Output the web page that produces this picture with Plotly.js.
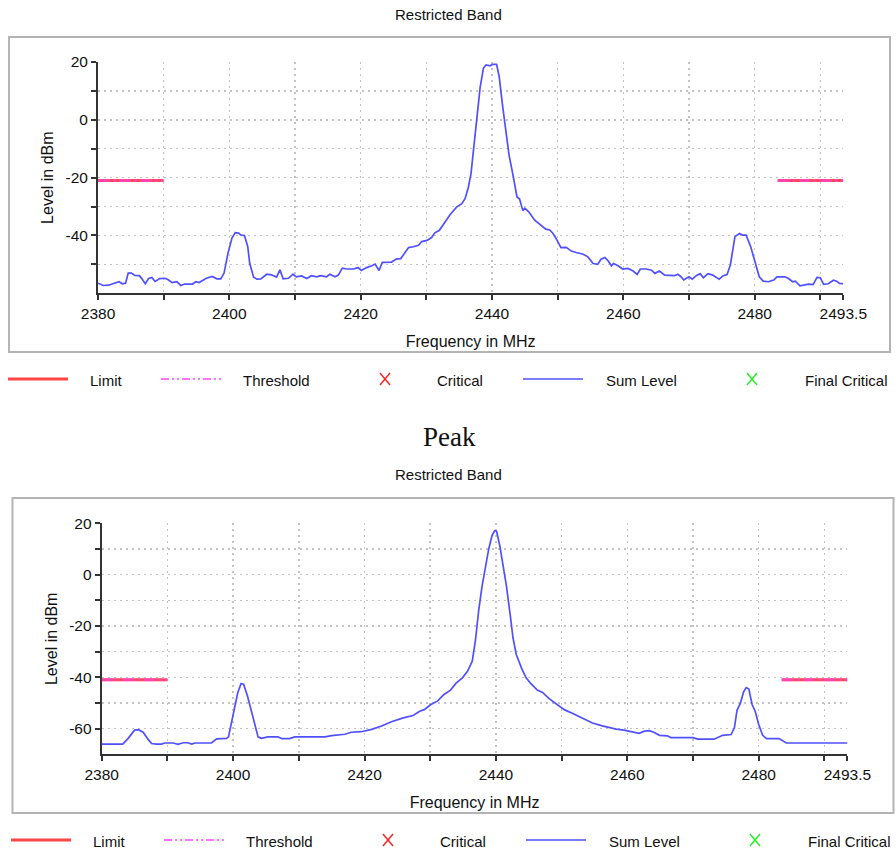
<!DOCTYPE html>
<html>
<head>
<meta charset="utf-8">
<script src="https://cdn.plot.ly/plotly-3.0.1.min.js"></script>
<style>html,body{margin:0;padding:0;background:#fff;}#chart{width:896px;height:854px;}</style>
</head>
<body>
<div id="chart"></div>
<script>
// ---------- DATA ----------
const freqAvg = [2380,2380.8,2381.6,2382.3,2383.2,2383.7,2384.2,2384.6,2385.1,2385.6,2386.3,2386.7,2387.2,2387.7,2388.2,2388.7,2389.4,2390.2,2390.7,2391.3,2392.0,2392.6,2393.2,2394.4,2394.9,2395.4,2396.0,2396.5,2397.4,2398.1,2398.7,2399.2,2399.8,2400.4,2400.9,2401.4,2401.8,2402.3,2402.8,2403.1,2403.7,2404.2,2404.8,2405.7,2406.4,2407.2,2407.7,2408.2,2409.0,2409.7,2410.2,2411.0,2411.8,2412.5,2413.3,2413.9,2414.8,2415.3,2416.1,2416.6,2417.2,2417.9,2418.9,2419.6,2420.1,2420.9,2421.7,2422.2,2422.8,2423.3,2424.7,2425.5,2426.1,2427.3,2428.0,2428.8,2429.3,2430.1,2430.8,2431.3,2432.0,2432.9,2433.6,2434.6,2435.4,2435.9,2436.4,2436.8,2437.2,2437.7,2438.2,2438.7,2439.1,2439.7,2440.1,2440.7,2441.1,2441.6,2442.1,2442.6,2443.2,2443.8,2444.2,2444.7,2445.0,2445.6,2446.5,2447.5,2448.2,2448.8,2449.3,2449.9,2450.5,2451.3,2452.1,2452.8,2453.8,2454.6,2455.4,2456.1,2456.6,2457.2,2457.7,2458.2,2458.5,2459.2,2459.9,2460.7,2461.5,2462.1,2462.6,2463.5,2464.3,2464.8,2465.5,2466.3,2467.1,2467.8,2468.3,2468.7,2469.2,2470.0,2470.5,2471.1,2471.7,2472.2,2472.9,2473.6,2474.6,2475.2,2475.8,2476.3,2477.0,2477.7,2478.2,2478.7,2479.4,2480.1,2480.7,2481.3,2482.1,2482.9,2483.4,2484.6,2485.1,2485.8,2486.2,2486.9,2487.5,2488.2,2488.9,2489.5,2490.0,2490.5,2491.2,2492.0,2492.5,2492.9,2493.5];
const levelAvg = [-56.5,-57.3,-57.2,-56.7,-56.0,-56.7,-56.5,-53.0,-53.0,-53.8,-53.9,-55.0,-56.7,-54.9,-54.5,-55.9,-54.9,-54.8,-55.3,-56.3,-56.0,-57.3,-56.8,-56.8,-56.0,-56.3,-55.6,-54.8,-54.2,-55.0,-55.0,-53.0,-46.1,-40.9,-39.0,-39.2,-39.9,-40.0,-43.8,-49.6,-54.4,-55.1,-55.0,-53.4,-53.6,-54.4,-51.9,-55.0,-54.8,-53.4,-54.3,-54.0,-54.9,-53.9,-54.3,-53.9,-54.3,-53.4,-54.3,-53.7,-51.3,-51.6,-51.6,-51.1,-52.1,-51.1,-50.5,-49.9,-52.1,-49.3,-49.2,-48.1,-48.0,-44.2,-43.9,-43.4,-42.1,-41.7,-40.7,-39.1,-38.2,-35.3,-32.8,-30.2,-29.0,-27.3,-23.3,-18.7,-10.6,0.9,11.3,17.9,19.0,18.7,19.2,19.2,14.9,5.1,-4.1,-12.2,-19.1,-26.6,-27.4,-31.4,-30.6,-31.8,-34.7,-36.4,-37.8,-38.1,-39.3,-41.6,-44.2,-44.1,-45.4,-45.9,-46.4,-47.4,-49.7,-50.0,-48.2,-47.6,-48.8,-50.5,-49.7,-50.5,-51.6,-51.4,-52.3,-53.5,-51.6,-51.6,-52.0,-53.1,-52.3,-53.7,-53.9,-53.9,-53.4,-54.1,-55.4,-54.3,-55.1,-53.9,-53.2,-54.6,-53.2,-53.7,-55.1,-53.9,-53.5,-50.2,-40.4,-39.3,-39.9,-39.9,-43.9,-49.7,-54.3,-55.8,-56.0,-55.4,-54.3,-54.3,-54.8,-56.0,-55.8,-57.4,-57.2,-56.8,-57.0,-54.5,-54.6,-56.9,-56.7,-55.5,-55.8,-56.6,-56.7];

const freqPeak = [2380,2383.2,2384.0,2385.0,2385.6,2386.3,2387.1,2387.6,2388.3,2389.1,2389.6,2390.9,2391.6,2392.4,2393.1,2393.7,2394.2,2396.7,2397.5,2399.0,2399.3,2400.0,2400.7,2401.2,2401.6,2402.2,2402.8,2403.3,2403.8,2404.3,2405.3,2406.8,2407.4,2408.6,2409.4,2414.0,2415.0,2417.0,2418.0,2419.5,2421.1,2422.6,2424.1,2425.9,2427.4,2428.4,2429.1,2430.1,2431.1,2432.1,2433.1,2433.9,2434.9,2435.7,2436.4,2436.9,2437.4,2437.9,2438.4,2438.9,2439.4,2439.8,2440.1,2440.6,2441.1,2441.6,2442.2,2442.6,2443.1,2443.9,2444.6,2445.3,2446.3,2447.1,2448.1,2449.1,2450.4,2451.7,2453.2,2454.7,2456.2,2457.3,2458.3,2459.5,2460.3,2461.1,2461.8,2462.6,2463.4,2464.1,2464.9,2466.1,2466.6,2470.0,2470.7,2473.2,2474.5,2475.8,2476.3,2476.7,2477.2,2477.7,2478.1,2478.5,2479.0,2479.5,2480.0,2480.6,2481.2,2483.1,2484.2,2486.7,2493.5];
const levelPeak = [-66.0,-66.0,-63.9,-60.6,-60.4,-61.4,-64.3,-65.8,-66.0,-66.0,-65.6,-65.6,-66.1,-65.5,-65.5,-66.0,-65.6,-65.6,-64.0,-63.8,-63.2,-53.9,-46.1,-42.5,-42.7,-47.4,-53.2,-59.1,-63.2,-63.8,-63.2,-63.2,-63.9,-63.9,-63.2,-63.2,-62.7,-62.2,-61.4,-61.2,-60.3,-59.0,-57.3,-55.8,-54.9,-53.2,-52.6,-50.6,-49.3,-46.7,-45.0,-42.4,-40.2,-37.6,-33.7,-25.3,-13.5,-4.4,3.4,9.9,15.1,17.1,16.9,11.2,3.4,-4.4,-16.2,-24.6,-31.1,-36.4,-40.2,-42.4,-45.0,-45.9,-48.3,-50.2,-52.6,-54.1,-56.1,-57.8,-58.9,-59.7,-60.2,-60.6,-61.0,-61.3,-61.8,-61.0,-60.8,-61.5,-62.6,-62.8,-63.5,-63.5,-64.1,-64.1,-62.6,-62.3,-59.7,-52.8,-50.2,-45.7,-44.0,-44.6,-50.6,-53.5,-58.4,-62.6,-63.9,-63.9,-65.6,-65.6,-65.6];

// restricted band limit segments (MHz) and levels (dBm)
const bandLow = [2380, 2390];
const bandHigh = [2483.5, 2493.5];
const limitAvg = -21;
const limitPeak = -41;
const thresholdAvg = -21;
const thresholdPeak = -41;

// axis ticks
const xTickVals = [2380,2390,2400,2410,2420,2430,2440,2450,2460,2470,2480,2490,2493.5];
const xTickText = ['2380','','2400','','2420','','2440','','2460','','2480','','2493.5'];
const yTickValsAvg = [-50,-40,-30,-20,-10,0,10,20];
const yTickTextAvg = ['','-40','','-20','','0','','20'];
const yTickValsPeak = [-60,-50,-40,-30,-20,-10,0,10,20];
const yTickTextPeak = ['-60','','-40','','-20','','0','','20'];

const legendNames = ['Limit','Threshold','Critical','Sum Level','Final Critical'];

// ---------- helpers ----------
const W = 896, H = 854;
const px = x => x / W;
const py = y => 1 - y / H;
const FONT = 'Liberation Sans, Arial, sans-serif';

function segs(level) {
  return {x: [bandLow[0], bandLow[1], null, bandHigh[0], bandHigh[1]],
          y: [level, level, null, level, level]};
}

const C_LIMIT = '#ff4646', C_THR = '#ff44ff', C_SUM = '#5050ff', C_CRIT = '#ff2020', C_FIN = '#22ee22';

const traces = [];
function addPanel(xa, ya, freq, level, lim, thr) {
  const l = segs(lim), t = segs(thr);
  traces.push({type:'scatter', mode:'lines', x:l.x, y:l.y, xaxis:xa, yaxis:ya, name:'Limit',
               line:{color:C_LIMIT, width:3}, showlegend:false, hoverinfo:'skip'});
  traces.push({type:'scatter', mode:'lines', x:t.x, y:t.y, xaxis:xa, yaxis:ya, name:'Threshold',
               line:{color:C_THR, width:3, dash:'12px,3px,3px,3px'}, opacity:0.55, showlegend:false, hoverinfo:'skip'});
  traces.push({type:'scatter', mode:'lines', x:freq, y:level, xaxis:xa, yaxis:ya, name:'Sum Level',
               line:{color:C_SUM, width:1.7}, showlegend:false});
  traces.push({type:'scatter', mode:'markers', x:[], y:[], xaxis:xa, yaxis:ya, name:'Critical',
               marker:{symbol:'x-thin', color:C_CRIT}, showlegend:false});
  traces.push({type:'scatter', mode:'markers', x:[], y:[], xaxis:xa, yaxis:ya, name:'Final Critical',
               marker:{symbol:'x-thin', color:C_FIN}, showlegend:false});
}
addPanel('x','y',freqAvg,levelAvg,limitAvg,thresholdAvg);
addPanel('x2','y2',freqPeak,levelPeak,limitPeak,thresholdPeak);

const tickFont = {family:FONT, size:15.5, color:'#111'};
const titleFont = {family:FONT, size:16, color:'#111'};

function xAxis(domain, anchor, title) {
  return {domain:domain, anchor:anchor, range:[2380,2493.5], tickmode:'array', tickvals:xTickVals, ticktext:xTickText,
    ticks:'outside', ticklen:5, tickwidth:2, tickcolor:'#333', showline:true, linecolor:'#333', linewidth:2,
    showgrid:true, gridcolor:'#c4c4c4', gridwidth:1.5, griddash:'2px,4px', zeroline:false,
    tickfont:tickFont, title:{text:title, font:titleFont, standoff:15}, automargin:false, fixedrange:true};
}
function yAxis(domain, anchor, range, vals, text, title) {
  return {domain:domain, anchor:anchor, range:range, tickmode:'array', tickvals:vals, ticktext:text,
    ticks:'outside', ticklen:5, tickwidth:2, tickcolor:'#333', showline:true, linecolor:'#333', linewidth:2,
    showgrid:true, gridcolor:'#c4c4c4', gridwidth:1.5, griddash:'2px,4px', zeroline:false,
    tickfont:tickFont, title:{text:title, font:titleFont, standoff:8}, automargin:false, fixedrange:true};
}
function overlayX(over, anchor) {
  return {overlaying:over, anchor:anchor, range:[2380,2493.5], tickmode:'array', tickvals:xTickVals,
    ticks:'inside', ticklen:4, tickwidth:2, tickcolor:'#333', showticklabels:false, showgrid:false,
    zeroline:false, showline:false, fixedrange:true};
}
function overlayY(over, anchor, range, vals) {
  return {overlaying:over, anchor:anchor, range:range, tickmode:'array', tickvals:vals,
    ticks:'inside', ticklen:6, tickwidth:2, tickcolor:'#333', showticklabels:false, showgrid:false,
    zeroline:false, showline:false, fixedrange:true};
}

const topX = [px(98), px(843.3)], topY = [py(293.3), py(62)];
const botX = [px(101.7), px(847.4)], botY = [py(754.3), py(523.3)];

const shapes = [
  {type:'rect', xref:'paper', yref:'paper', x0:px(9), x1:px(890), y0:py(37), y1:py(352), line:{color:'#b4b4b4', width:2}, layer:'below'},
  {type:'rect', xref:'paper', yref:'paper', x0:px(12.5), x1:px(893.5), y0:py(498), y1:py(813), line:{color:'#b4b4b4', width:2}, layer:'below'}
];
const annotations = [
  {xref:'paper', yref:'paper', x:px(448), y:py(14), text:'Restricted Band', showarrow:false, font:{family:FONT, size:15, color:'#111'}, xanchor:'center', yanchor:'middle'},
  {xref:'paper', yref:'paper', x:px(448), y:py(475), text:'Restricted Band', showarrow:false, font:{family:FONT, size:15, color:'#111'}, xanchor:'center', yanchor:'middle'},
  {xref:'paper', yref:'paper', x:px(449), y:py(437), text:'Peak', showarrow:false, font:{family:'Liberation Serif, Times New Roman, serif', size:27, color:'#111'}, xanchor:'center', yanchor:'middle'}
];

// legend rows (drawn manually to match original placement)
function legendRow(yc, dx) {
  const ln = (x0, x1, color, dash, width) => shapes.push({type:'line', xref:'paper', yref:'paper', x0:px(x0+dx), x1:px(x1+dx), y0:py(yc), y1:py(yc), line:{color:color, width:width, dash:dash}});
  const cross = (xc, color) => {
    shapes.push({type:'line', xref:'paper', yref:'paper', x0:px(xc-5+dx), x1:px(xc+5+dx), y0:py(yc-6), y1:py(yc+6), line:{color:color, width:1.4}});
    shapes.push({type:'line', xref:'paper', yref:'paper', x0:px(xc-5+dx), x1:px(xc+5+dx), y0:py(yc+6), y1:py(yc-6), line:{color:color, width:1.4}});
  };
  const txt = (x, s) => annotations.push({xref:'paper', yref:'paper', x:px(x+dx), y:py(yc+1), text:s, showarrow:false, xanchor:'left', yanchor:'middle', font:{family:FONT, size:15, color:'#111'}});
  ln(8, 68, C_LIMIT, 'solid', 3); txt(88, legendNames[0]);
  ln(161, 222, C_THR, '8px,3px,2px,3px,2px,3px', 1.5); txt(241, legendNames[1]);
  cross(385, C_CRIT); txt(435, legendNames[2]);
  ln(523, 583, C_SUM, 'solid', 1.6); txt(604, legendNames[3]);
  cross(752, C_FIN); txt(803, legendNames[4]);
}
legendRow(379, 0);
legendRow(840, 3);

const layout = {
  width:W, height:H, margin:{l:0, r:0, t:0, b:0}, paper_bgcolor:'#fff', plot_bgcolor:'rgba(0,0,0,0)',
  showlegend:false, font:{family:FONT, color:'#111'},
  xaxis: xAxis(topX, 'y', 'Frequency in MHz'),
  yaxis: yAxis(topY, 'x', [-60,20], yTickValsAvg, yTickTextAvg, 'Level in dBm'),
  xaxis2: xAxis(botX, 'y2', 'Frequency in MHz'),
  yaxis2: yAxis(botY, 'x2', [-70,20], yTickValsPeak, yTickTextPeak, 'Level in dBm'),
  xaxis3: overlayX('x', 'y'),
  yaxis3: overlayY('y', 'x', [-60,20], yTickValsAvg),
  xaxis4: overlayX('x2', 'y2'),
  yaxis4: overlayY('y2', 'x2', [-70,20], yTickValsPeak),
  shapes:shapes, annotations:annotations
};

Plotly.newPlot('chart', traces, layout, {staticPlot:true, displayModeBar:false});
</script>
</body>
</html>
